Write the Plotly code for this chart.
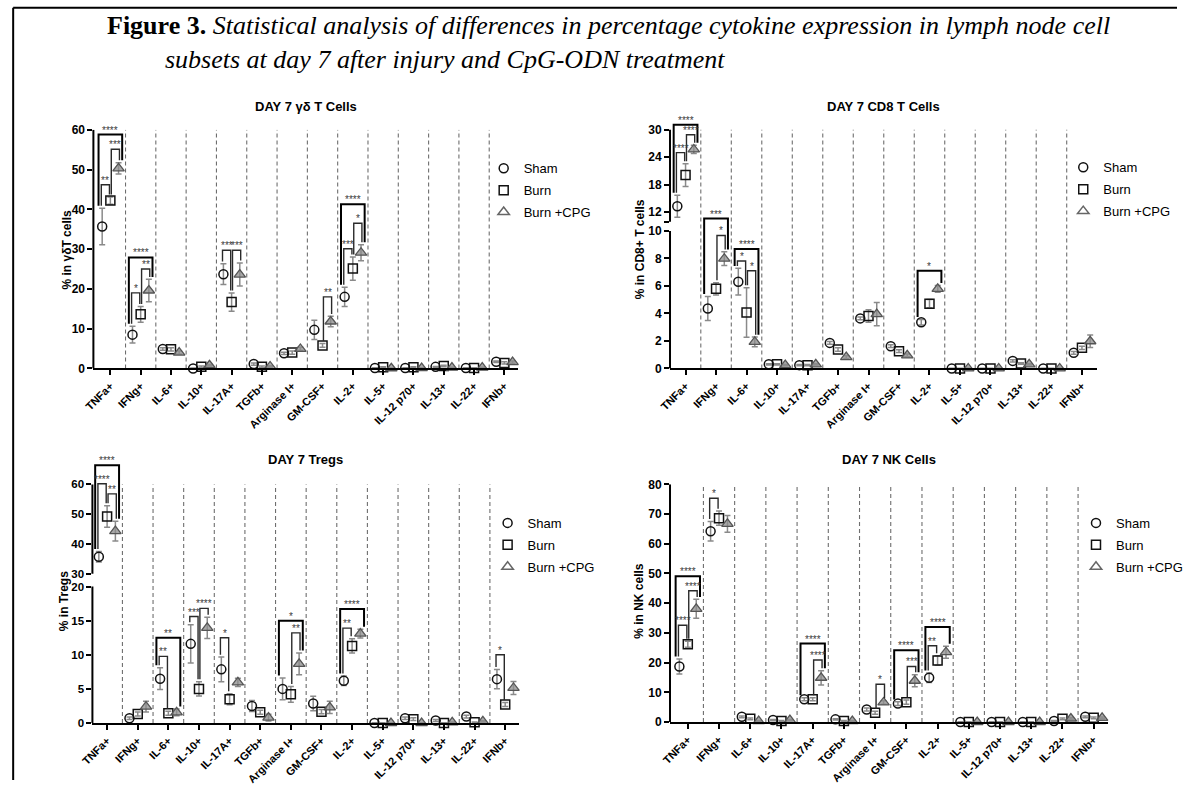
import plotly.graph_objects as go

# ---------------- data ----------------
categories = ["TNFa+", "IFNg+", "IL-6+", "IL-10+", "IL-17A+", "TGFb+", "Arginase I+",
              "GM-CSF+", "IL-2+", "IL-5+", "IL-12 p70+", "IL-13+", "IL-22+", "IFNb+"]
groups = ["Sham", "Burn", "Burn +CPG"]

# DAY 7 gamma-delta T cells
gd_sham = [35.7, 8.5, 4.9, 0.0, 23.7, 1.1, 3.8, 9.7, 18.0, 0.1, 0.1, 0.4, 0.1, 1.7]
gd_sham_err = [4.6, 2.1, 0.3, 0.1, 2.6, 0.3, 0.3, 2.4, 2.4, 0.1, 0.1, 0.1, 0.1, 0.2]
gd_burn = [42.2, 13.6, 4.8, 0.4, 16.7, 0.4, 4.0, 5.8, 25.1, 0.3, 0.3, 0.6, 0.1, 1.4]
gd_burn_err = [0.9, 2.0, 0.4, 0.2, 2.3, 0.2, 0.4, 0.5, 2.9, 0.1, 0.1, 0.2, 0.1, 0.3]
gd_cpg = [50.3, 19.6, 4.0, 0.8, 23.6, 0.5, 4.9, 11.8, 29.1, 0.05, 0.1, 0.2, 0.2, 1.6]
gd_cpg_err = [1.4, 2.8, 0.4, 0.2, 2.9, 0.2, 0.4, 1.3, 2.0, 0.05, 0.1, 0.1, 0.1, 0.3]
gd_brackets = [(0, 0, 2, 58.8, "****"), (0, 0, 1, 46.2, "**"), (0, 1, 2, 55.1, "***"),
               (1, 0, 2, 27.9, "****"), (1, 0, 1, 19.0, "*"), (1, 1, 2, 25.0, "**"),
               (4, 0, 1, 29.7, "***"), (4, 1, 2, 29.7, "***"),
               (7, 1, 2, 18.0, "**"),
               (8, 0, 2, 41.3, "****"), (8, 0, 1, 30.1, "***"), (8, 1, 2, 36.5, "*")]

# DAY 7 CD8 T cells
cd8_sham = [13.3, 4.36, 6.31, 0.30, 0.24, 1.86, 3.64, 1.62, 3.36, 0.0, 0.0, 0.55, 0.0, 1.14]
cd8_sham_err = [2.4, 0.88, 0.97, 0.05, 0.05, 0.1, 0.1, 0.1, 0.2, 0.02, 0.02, 0.08, 0.02, 0.1]
cd8_burn = [20.1, 5.79, 4.07, 0.30, 0.24, 1.38, 3.81, 1.26, 4.71, 0.0, 0.0, 0.36, 0.0, 1.50]
cd8_burn_err = [2.5, 0.45, 1.8, 0.05, 0.05, 0.12, 0.45, 0.1, 0.3, 0.02, 0.02, 0.06, 0.02, 0.12]
cd8_cpg = [25.7, 7.98, 1.93, 0.24, 0.30, 0.83, 3.95, 0.95, 5.79, 0.0, 0.0, 0.30, 0.0, 1.98]
cd8_cpg_err = [0.9, 0.5, 0.35, 0.05, 0.05, 0.1, 0.85, 0.1, 0.25, 0.02, 0.02, 0.05, 0.02, 0.45]
cd8_brackets = [(0, 0, 2, 31.1, "****"), (0, 0, 1, 25.0, "****"), (0, 1, 2, 28.9, "****"),
                (1, 0, 2, 10.62, "***"), (1, 1, 2, 9.67, "*"),
                (2, 0, 2, 8.69, "****"), (2, 0, 1, 7.81, "*"), (2, 1, 2, 7.1, "*"),
                (8, 0, 2, 7.1, "*")]

# DAY 7 Tregs
treg_sham = [35.7, 0.7, 6.5, 11.6, 7.86, 2.5, 5.0, 2.86, 6.19, 0.0, 0.7, 0.38, 0.95, 6.43]
treg_sham_err = [1.8, 0.2, 1.6, 2.8, 1.8, 0.8, 1.6, 1.05, 0.7, 0.05, 0.2, 0.15, 0.2, 1.4]
treg_burn = [49.2, 1.33, 1.43, 5.0, 3.48, 1.57, 4.2, 1.67, 11.3, 0.0, 0.57, 0.0, 0.1, 2.71]
treg_burn_err = [3.6, 0.3, 0.3, 1.05, 0.8, 0.3, 1.15, 0.3, 1.05, 0.05, 0.2, 0.05, 0.05, 0.3]
treg_cpg = [44.3, 2.4, 1.57, 13.95, 5.95, 0.8, 8.67, 2.29, 13.1, 0.0, 0.0, 0.1, 0.24, 5.14]
treg_cpg_err = [3.3, 0.8, 0.5, 1.55, 0.6, 0.5, 1.6, 0.9, 0.65, 0.05, 0.05, 0.05, 0.1, 0.95]
treg_brackets = [(0, 0, 2, 66.4, "****"), (0, 0, 1, 60.2, "****"), (0, 1, 2, 56.8, "**"),
                 (2, 0, 2, 12.5, "**"), (2, 0, 1, 9.76, "**"),
                 (3, 0, 1, 15.6, "***"), (3, 1, 2, 16.8, "****"),
                 (4, 0, 1, 12.5, "*"),
                 (6, 0, 2, 15.0, "*"), (6, 1, 2, 13.2, "**"),
                 (8, 0, 2, 16.7, "****"), (8, 0, 1, 13.9, "**"),
                 (13, 0, 1, 10.0, "*")]

# DAY 7 NK cells
nk_sham = [18.7, 64.2, 1.76, 0.66, 7.7, 0.9, 4.2, 6.2, 14.9, 0.0, 0.0, 0.0, 0.33, 1.76]
nk_sham_err = [2.5, 3.3, 0.3, 0.2, 0.5, 0.2, 0.5, 0.6, 1.6, 0.1, 0.1, 0.1, 0.2, 0.3]
nk_burn = [26.2, 68.6, 1.1, 0.33, 7.7, 0.33, 3.1, 6.7, 20.7, 0.0, 0.0, 0.0, 1.1, 1.43]
nk_burn_err = [1.0, 2.4, 0.3, 0.2, 0.5, 0.2, 0.5, 0.7, 1.6, 0.1, 0.1, 0.1, 0.3, 0.3]
nk_cpg = [38.1, 66.7, 0.3, 0.66, 14.9, 0.33, 6.6, 13.9, 23.5, 0.0, 0.0, 0.0, 1.2, 1.43]
nk_cpg_err = [3.2, 2.8, 0.2, 0.2, 2.4, 0.2, 0.6, 2.0, 2.0, 0.1, 0.1, 0.1, 0.3, 0.3]
nk_brackets = [(0, 0, 2, 49.1, "****"), (0, 0, 1, 32.6, "****"), (0, 1, 2, 44.2, "****"),
               (1, 0, 1, 75.3, "*"),
               (4, 0, 2, 26.4, "****"), (4, 1, 2, 20.9, "****"),
               (6, 1, 2, 12.7, "*"),
               (7, 0, 2, 24.2, "****"), (7, 1, 2, 18.7, "***"),
               (8, 0, 2, 32.0, "****"), (8, 0, 1, 25.7, "**")]

# ---------------- scales (broken axes) ----------------
def t_ident(v):
    return v

def t_cd8(v):
    return v if v <= 10 else 11.36 + (v - 12) / 3.0

def t_treg(v):
    return v if v <= 20 else 21.87 + (v - 30) * 0.4363

# page geometry: the page body keeps its default 8px margin on every side, so the
# figure is sized to fit inside the window and positions are given in window pixels.
WIN_W, WIN_H, OFF = 1204, 803, 8
W, H = WIN_W - 2 * OFF, WIN_H - 2 * OFF
FONT = "Arial, Liberation Sans, sans-serif"
SERIF = "Liberation Serif, Times New Roman, serif"

def fx(p):
    return max(p - OFF, 0.5) / W

def fy(p):
    return 1 - max(p - OFF, 0.5) / H

panels = [
    dict(title="DAY 7 γδ T Cells", ylabel="% in γδT cells",
         vals=[gd_sham, gd_burn, gd_cpg], errs=[gd_sham_err, gd_burn_err, gd_cpg_err],
         brackets=gd_brackets, tf=t_ident,
         xpx=(91, 524), xr=[-0.56, 13.45], ybot=376, ppu=4.05, rtop=60,
         ticks=[0, 10, 20, 30, 40, 50, 60], extra=[], segs=[(0, 60)], axtop=60, tfs=12,
         lab=(64, 255), ttl_y=109, leg=(489, 157)),
    dict(title="DAY 7 CD8 T Cells", ylabel="% in CD8+ T cells",
         vals=[cd8_sham, cd8_burn, cd8_cpg], errs=[cd8_sham_err, cd8_burn_err, cd8_cpg_err],
         brackets=cd8_brackets, tf=t_cd8,
         xpx=(679, 1114), xr=[-0.51, 13.48], ybot=376, ppu=14.0, rtop=17.9,
         ticks=[0, 2, 4, 6, 8, 10, 12, 18, 24, 30], extra=[10.66],
         segs=[(0, 10), (10.66, t_cd8(30))], axtop=t_cd8(30), tfs=12,
         lab=(648, 255), ttl_y=109, leg=(1080, 156)),
    dict(title="DAY 7 Tregs", ylabel="% in Tregs",
         vals=[treg_sham, treg_burn, treg_cpg], errs=[treg_sham_err, treg_burn_err, treg_cpg_err],
         brackets=treg_brackets, tf=t_treg,
         xpx=(90, 525), xr=[-0.48, 13.45], ybot=737, ppu=6.95, rtop=38.2,
         ticks=[0, 5, 10, 15, 20, 30, 40, 50, 60], extra=[],
         segs=[(0, 20), (t_treg(30), t_treg(60))], axtop=t_treg(60), tfs=11.5,
         lab=(61, 613), ttl_y=469, leg=(493, 518)),
    dict(title="DAY 7 NK Cells", ylabel="% in NK cells",
         vals=[nk_sham, nk_burn, nk_cpg], errs=[nk_sham_err, nk_burn_err, nk_cpg_err],
         brackets=nk_brackets, tf=t_ident,
         xpx=(679, 1126), xr=[-0.57, 13.47], ybot=736, ppu=3.025, rtop=80,
         ticks=[0, 10, 20, 30, 40, 50, 60, 70, 80], extra=[], segs=[(0, 80)], axtop=80, tfs=12,
         lab=(648, 613), ttl_y=469, leg=(1093, 518)),
]

offsets = [-0.27, 0.0, 0.27]
marker_styles = [
    dict(symbol="circle", size=9, color="rgba(255,255,255,0)", line=dict(color="#111", width=1.5)),
    dict(symbol="square", size=9, color="rgba(255,255,255,0)", line=dict(color="#111", width=1.5)),
    dict(symbol="triangle-up", size=10, color="rgba(140,140,140,0.75)", line=dict(color="#555", width=1.3)),
]
legend_styles = [
    dict(symbol="circle-open", size=9, color="#111", line=dict(width=1.5)),
    dict(symbol="square-open", size=9, color="#111", line=dict(width=1.5)),
    dict(symbol="triangle-up-open", size=10, color="#666", line=dict(width=1.5)),
]

fig = go.Figure()
shapes = []
annotations = []
layout = {}
ncat = len(categories)

for pi, p in enumerate(panels):
    sfx = "" if pi == 0 else str(pi + 1)
    xa, ya = "x" + sfx, "y" + sfx
    leg_id = "legend" + sfx
    tf = p["tf"]
    # data traces
    for gi in range(3):
        vals, errs = p["vals"][gi], p["errs"][gi]
        xs = [i + offsets[gi] for i in range(ncat)]
        ys = [tf(v) for v in vals]
        up = [tf(v + e) - tf(v) for v, e in zip(vals, errs)]
        dn = [tf(v) - tf(max(v - e, 0)) for v, e in zip(vals, errs)]
        fig.add_trace(go.Scatter(
            x=xs, y=ys, mode="markers", xaxis=xa, yaxis=ya, showlegend=False,
            marker=marker_styles[gi], cliponaxis=False,
            error_y=dict(type="data", array=up, arrayminus=dn, color="#8a8a8a",
                         thickness=1.5, width=3),
            hoverinfo="skip"))
    # legend entries
    for gi in range(3):
        fig.add_trace(go.Scatter(
            x=[None], y=[None], mode="markers", xaxis=xa, yaxis=ya, name=groups[gi],
            marker=legend_styles[gi], legend=leg_id, legendgroup=f"{pi}-{gi}",
            showlegend=True))
    # axes
    y0px = p["ybot"]
    y1px = p["ybot"] - p["rtop"] * p["ppu"]
    layout["xaxis" + sfx] = dict(
        domain=[fx(p["xpx"][0]), fx(p["xpx"][1])], anchor=ya, range=p["xr"],
        tickmode="array", tickvals=list(range(ncat)), ticktext=categories,
        tickangle=-45, ticks="outside", ticklen=5, tickwidth=1.5, tickcolor="black",
        showline=True, linewidth=2, linecolor="black", showgrid=False, zeroline=False,
        tickfont=dict(family=FONT, size=11, color="black", weight="bold"), fixedrange=True)
    tv = [tf(v) for v in p["ticks"]] + p["extra"]
    tt = [str(v) for v in p["ticks"]] + ["" for _ in p["extra"]]
    layout["yaxis" + sfx] = dict(
        domain=[fy(y0px), fy(y1px)], anchor=xa, range=[0, p["rtop"]],
        tickmode="array", tickvals=tv, ticktext=tt,
        ticks="outside", ticklen=5, tickwidth=1.5, tickcolor="black",
        showline=False, showgrid=False, zeroline=False,
        tickfont=dict(family=FONT, size=p["tfs"], color="black", weight="bold"), fixedrange=True)
    # y axis line segments (broken axis)
    for s0, s1 in p["segs"]:
        shapes.append(dict(type="line", xref=xa + " domain", x0=0, x1=0, yref=ya,
                           y0=s0, y1=s1, line=dict(color="black", width=2)))
    # dashed separators
    for i in range(ncat - 1):
        shapes.append(dict(type="line", xref=xa, yref=ya, x0=i + 0.5, x1=i + 0.5,
                           y0=0, y1=p["axtop"], layer="below",
                           line=dict(color="#6e6e6e", width=1.1, dash="4px,3px")))
    # significance brackets
    pad = 2.5 / p["ppu"]
    for (c, g1, g2, top, lab) in p["brackets"]:
        if (g1, g2) == (0, 2):
            lx, rx, col, wd = c - 0.39, c + 0.39, "black", 2
        elif (g1, g2) == (0, 1):
            lx, rx, col, wd = c - 0.3, c - 0.03, "#2a2a2a", 1.4
        else:
            lx, rx, col, wd = c + 0.03, c + 0.3, "#2a2a2a", 1.4
        b1 = tf(p["vals"][g1][c] + p["errs"][g1][c]) + pad
        b2 = tf(p["vals"][g2][c] + p["errs"][g2][c]) + pad
        yt = tf(top)
        shapes.append(dict(type="path", xref=xa, yref=ya,
                           path=f"M {lx},{b1} L {lx},{yt} L {rx},{yt} L {rx},{b2}",
                           line=dict(color=col, width=wd)))
        annotations.append(dict(x=(lx + rx) / 2, y=yt, xref=xa, yref=ya, text=lab,
                                showarrow=False, yanchor="bottom", yshift=-3,
                                font=dict(family=FONT, size=10, color="#3a3a3a")))
    # panel title
    annotations.append(dict(x=0.5, xref=xa + " domain", y=fy(p["ttl_y"]), yref="paper",
                            text="<b>" + p["title"] + "</b>", showarrow=False,
                            xanchor="center", yanchor="middle",
                            font=dict(family=FONT, size=13, color="black")))
    # y label
    annotations.append(dict(x=fx(p["lab"][0]), y=fy(p["lab"][1]), xref="paper", yref="paper",
                            text="<b>" + p["ylabel"] + "</b>", textangle=-90, showarrow=False,
                            xanchor="center", yanchor="middle",
                            font=dict(family=FONT, size=12, color="black")))
    layout[leg_id] = dict(x=fx(p["leg"][0]), y=fy(p["leg"][1]), xanchor="left", yanchor="top",
                          bgcolor="rgba(0,0,0,0)", borderwidth=0, tracegroupgap=2,
                          font=dict(family=FONT, size=13, color="black"))

# figure caption
annotations.append(dict(x=fx(103), y=fy(27), xref="paper", yref="paper", showarrow=False,
                        xanchor="left", yanchor="middle",
                        text="<b>Figure 3.</b> <i>Statistical analysis of differences in percentage "
                             "cytokine expression in lymph node cell</i>",
                        font=dict(family=SERIF, size=26, color="black")))
annotations.append(dict(x=fx(162), y=fy(61), xref="paper", yref="paper", showarrow=False,
                        xanchor="left", yanchor="middle",
                        text="<i>subsets at day 7 after injury and CpG-ODN treatment</i>",
                        font=dict(family=SERIF, size=26, color="black")))
# frame
shapes.append(dict(type="line", xref="paper", yref="paper", x0=0.001, x1=1, y0=0.999, y1=0.999,
                   line=dict(color="black", width=2)))
shapes.append(dict(type="line", xref="paper", yref="paper", x0=0.001, x1=0.001, y0=0, y1=0.999,
                   line=dict(color="black", width=2)))

fig.update_layout(width=W, height=H, autosize=False, margin=dict(l=0, r=0, t=0, b=0),
                  paper_bgcolor="white", plot_bgcolor="white",
                  shapes=shapes, annotations=annotations, **layout)
fig.write_html("out.html")
